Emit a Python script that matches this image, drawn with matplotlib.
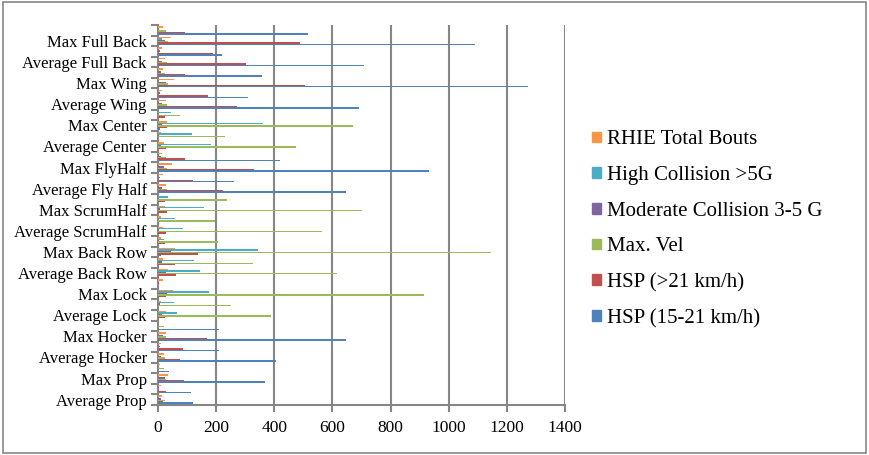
import matplotlib.pyplot as plt
import numpy as np
from matplotlib.patches import Rectangle, Patch

plt.rcParams['font.family'] = ['Liberation Serif', 'DejaVu Serif']

# 36 categories bottom to top, only every other one is labelled on the axis
shown_labels = ["Average Prop", "Max Prop", "Average Hocker", "Max Hocker",
                "Average Lock", "Max Lock", "Average Back Row", "Max Back Row",
                "Average ScrumHalf", "Max ScrumHalf", "Average Fly Half",
                "Max FlyHalf", "Average Center", "Max Center", "Average Wing",
                "Max Wing", "Average Full Back", "Max Full Back"]

series_names = ["HSP (15-21 km/h)", "HSP (>21 km/h)", "Max. Vel",
                "Moderate Collision 3-5 G", "High Collision >5G",
                "RHIE Total Bouts"]
colors = ["#4F81BD", "#C0504D", "#9BBB59", "#8064A2", "#4BACC6", "#F79646"]

hsp_15_21 = [120, 113, 368, 37, 406, 210, 645, 210, 0, 0, 5, 0,
             0, 0, 9, 0, 0, 0, 0, 0, 648, 261, 931, 420,
             0, 0, 6, 0, 690, 310, 1273, 358, 710, 220, 1090, 517]
hsp_21 = [16, 26, 89, 0, 75, 85, 168, 0, 23, 0, 26, 0,
          61, 58, 137, 23, 26, 0, 30, 23, 223, 120, 330, 92,
          26, 0, 30, 23, 272, 172, 506, 92, 303, 189, 489, 92]
max_vel = [23, 0, 26, 20, 23, 0, 26, 20, 389, 251, 914, 0,
           617, 327, 1145, 206, 565, 196, 700, 237, 30, 0, 30, 26,
           475, 230, 672, 75, 30, 0, 33, 23, 30, 0, 35, 26]
mod_coll = [9, 5, 23, 0, 9, 6, 16, 0, 13, 6, 30, 5,
            26, 13, 44, 3, 5, 0, 8, 0, 13, 6, 20, 9,
            9, 3, 15, 0, 13, 6, 26, 9, 13, 6, 23, 5]
high_coll = [0, 0, 0, 0, 0, 0, 0, 0, 64, 54, 175, 0,
             144, 123, 344, 20, 85, 58, 158, 33, 0, 0, 0, 0,
             182, 116, 361, 44, 0, 0, 0, 0, 0, 0, 15, 0]
rhie = [13, 9, 33, 6, 20, 9, 26, 0, 26, 9, 51, 16,
        33, 16, 58, 9, 16, 9, 23, 0, 26, 16, 47, 13,
        20, 9, 30, 0, 26, 13, 54, 17, 23, 13, 44, 17]

data = [hsp_15_21, hsp_21, max_vel, mod_coll, high_coll, rhie]

fig = plt.figure(figsize=(8.69, 4.55), dpi=100)
ax = fig.add_axes([0.1818, 0.110, 0.4684, 0.8347])

grid_col = "#868686"
n = len(hsp_15_21)
y = np.arange(n)
h = 1 / 7.5
for k, (vals, col) in enumerate(zip(data, colors)):
    ax.barh(y - 0.4 + h / 2 + k * h, vals, height=h, color=col,
            linewidth=0, zorder=3)

ax.set_xlim(0, 1400)
ax.set_ylim(-0.5, n - 0.5)
ax.set_xticks(np.arange(0, 1401, 200))
ax.tick_params(axis='x', labelsize=12.5, length=5, width=1.5, color=grid_col,
               pad=6)
ax.xaxis.grid(True, color=grid_col, linewidth=1.5, zorder=0)

ax.set_yticks(np.arange(-0.5, n, 1))
ax.set_yticklabels([])
ax.tick_params(axis='y', which='major', length=5, width=1.5, color=grid_col)
ax.set_yticks(np.arange(0, n, 2), minor=True)
ax.set_yticklabels(shown_labels, minor=True, fontsize=12)
ax.tick_params(axis='y', which='minor', length=0, pad=8)

for s in ["top", "right"]:
    ax.spines[s].set_visible(False)
for s in ["left", "bottom"]:
    ax.spines[s].set_color(grid_col)
    ax.spines[s].set_linewidth(1.5)
ax.set_axisbelow(True)

handles = [Patch(color=c, label=l) for c, l in zip(colors, series_names)]
fig.legend(handles=handles[::-1], loc="center left",
           bbox_to_anchor=(0.66, 0.496), frameon=False, fontsize=15,
           handlelength=0.42, handleheight=0.42, handletextpad=0.3,
           labelspacing=0.8)

fig.patches.append(Rectangle((0.003, 0.005), 0.994, 0.99,
                             transform=fig.transFigure, fill=False,
                             edgecolor=grid_col, linewidth=1.2))

fig.savefig("out.png", dpi=100)
